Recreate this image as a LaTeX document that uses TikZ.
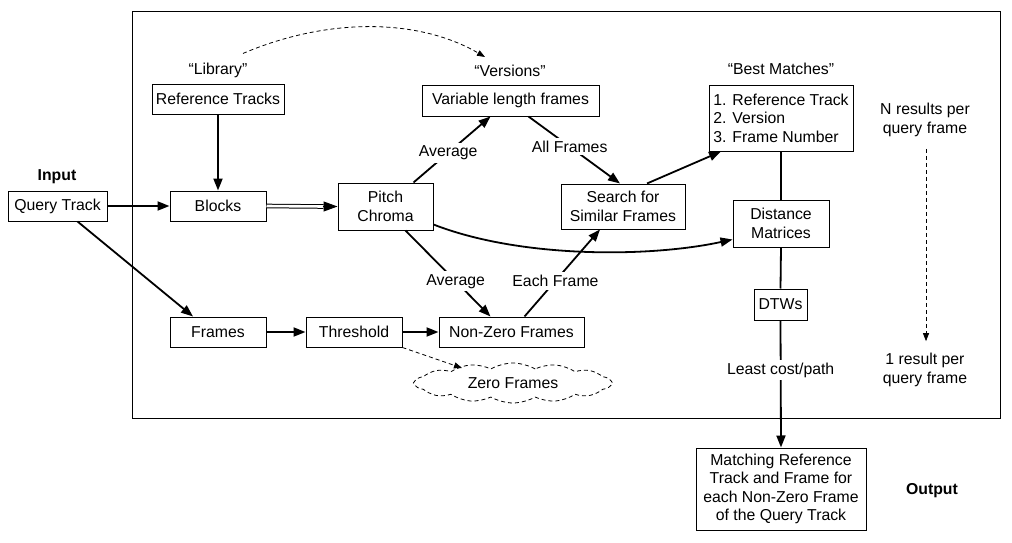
\documentclass[tikz,border=0pt]{standalone}
\usepackage{fontspec}
\setmainfont{Liberation Sans}
\usetikzlibrary{arrows.meta,shapes.symbols,calc}
\begin{document}
\begin{tikzpicture}[x=1pt,y=-1pt,
  every node/.style={font=\fontsize{15.8}{18.5}\selectfont, inner sep=2pt},
  box/.style={draw, line width=1pt, align=center, inner sep=0pt},
  lbl/.style={fill=white, inner sep=3pt},
  conn/.style={line width=1.8pt, -{Triangle[length=12pt,width=9pt]}},
  plain/.style={line width=1.8pt},
  dconn/.style={line width=0.8pt, dash pattern=on 4pt off 3pt, -{Triangle[length=8pt,width=6pt]}}
]
\useasboundingbox (0,0) rectangle (1012,543);
\draw[line width=1pt] (132,12) rectangle (1000,418);

% nodes
\node[box, minimum width=99, minimum height=30] (Q) at (57.5,206) {Query Track};
\node[font=\fontsize{15.8}{18.5}\selectfont\bfseries] (in) at (57,177) {Input};
\node[box, minimum width=96, minimum height=30] (B) at (218,206) {Blocks};
\node[box, minimum width=132, minimum height=30] (RT) at (218,99) {Reference Tracks};
\node (lib) at (218,70) {“Library”};
\node[box, minimum width=95, minimum height=47] (P) at (385.5,206.5) {Pitch\\Chroma};
\node[box, minimum width=177, minimum height=31] (V) at (510.5,100.5) {Variable length frames};
\node (ver) at (510,71) {“Versions”};
\node[box, minimum width=144, minimum height=66, align=left] (BM) at (781,118) {1. Reference Track\\2. Version\\3. Frame Number};
\node (bml) at (781,69) {“Best Matches”};
\node[box, minimum width=124, minimum height=45] (S) at (623,206.5) {Search for\\Similar Frames};
\node[box, minimum width=96, minimum height=47] (DM) at (781,223.5) {Distance\\Matrices};
\node[box, minimum width=53, minimum height=31] (DT) at (780.5,304.5) {DTWs};
\node[box, minimum width=170, minimum height=82] (M) at (781,489) {Matching Reference\\Track and Frame for\\each Non-Zero Frame\\of the Query Track};
\node[font=\fontsize{15.8}{18.5}\selectfont\bfseries] (out) at (932,491) {Output};
\node[box, minimum width=96, minimum height=30] (F) at (218,332) {Frames};
\node[box, minimum width=96, minimum height=30] (T) at (354,332) {Threshold};
\node[box, minimum width=145, minimum height=30] (N) at (511.5,332) {Non-Zero Frames};
\node[cloud, draw, line width=0.8pt, dash pattern=on 4pt off 3pt, cloud puffs=14, cloud puff arc=60, aspect=5, minimum width=196, minimum height=40, inner sep=0pt] (Z) at (513,383) {Zero Frames};
\node[align=center] (NR) at (925,120) {N results per\\query frame};
\node[align=center] (OR) at (925,370) {1 result per\\query frame};

% connectors
\draw[conn] (Q.east) -- (B.west);
\draw[conn] (RT.south) -- (B.north);
\draw[line width=1pt, double, double distance=2.6pt] (B.east) -- ([shift={(-14,0)}]P.west);
\draw[line width=1pt, -{Triangle[length=14pt,width=10pt]}] ([shift={(-15,0)}]P.west) -- (P.west);
\draw[conn] ([shift={(-20,0)}]P.north east) -- node[lbl, pos=0.45] {Average} ([shift={(-20,0)}]V.south);
\draw[conn] ([shift={(18,0)}]V.south) -- node[lbl, pos=0.45] {All Frames} ([shift={(-3,0)}]S.north);
\draw[conn] ([shift={(24,0)}]S.north) -- ([shift={(-60,0)}]BM.south);
\draw[plain] (BM.south) -- (DM.north);
\draw[conn] ([shift={(0,18)}]P.east) .. controls +(87,34) and +(-83,18) .. ([shift={(0,16)}]DM.west);
\draw[conn] ([shift={(20,0)}]P.south) -- node[lbl, pos=0.59] {Average} ([shift={(-21,0)}]N.north);
\draw[conn] ([shift={(13,0)}]N.north) -- node[lbl, pos=0.41] {Each Frame} ([shift={(-23,0)}]S.south);
\draw[plain] (DM.south) -- (DT.north);
\draw[conn] (DT.south) -- node[lbl, pos=0.39] {Least cost/path} (M.north);
\draw[conn] ([shift={(20,0)}]Q.south) -- ([shift={(-25,0)}]F.north);
\draw[conn] (F.east) -- (T.west);
\draw[conn] (T.east) -- (N.west);
\draw[dconn] (T.south east) -- ([shift={(-51,-15)}]Z.center);
\draw[dconn] ([shift={(25,-7)}]lib.north) .. controls +(87,-37) and +(-65,-38) .. ([shift={(-25,-6)}]ver.north);
\draw[dconn] ([shift={(1,10)}]NR.south) -- ([shift={(1,-10)}]OR.north);
\end{tikzpicture}
\end{document}
